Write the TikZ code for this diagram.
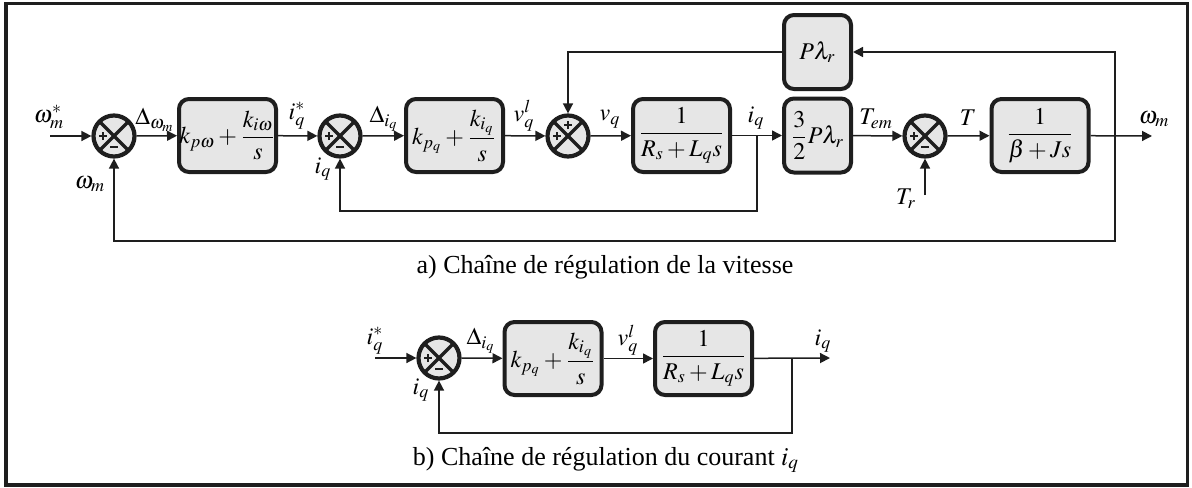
\documentclass[tikz,border=0pt]{standalone}
\usepackage{amsmath}
\usepackage{mathptmx}
\usepackage{fontspec}
\setmainfont{Liberation Serif}
\usetikzlibrary{arrows.meta}
\definecolor{lc}{RGB}{30,30,30}
\definecolor{boxfill}{RGB}{230,230,230}
\begin{document}
\begin{tikzpicture}[x=0.5pt,y=-0.5pt,
  every node/.style={font=\fontsize{12}{14}\selectfont, inner sep=0pt},
  captxt/.style={font=\fontsize{13}{15}\selectfont},
  blk/.style={draw=lc, line width=2pt, rounded corners=5pt, fill=boxfill,
    minimum width=48.5pt, minimum height=36.5pt, inner sep=0pt},
  nblk/.style={blk, minimum width=33.5pt, minimum height=37pt},
  arr/.style={-{Triangle[length=5pt,width=5pt]}, line width=0.75pt, draw=lc},
  sgn/.style={line width=1.1pt, draw=lc},
  sumbase/.style={circle, draw=lc, line width=2.1pt, fill=boxfill, minimum size=20.5pt, inner sep=0pt,
    path picture={
      \draw[line width=1.7pt,lc] ([shift={(45:12pt)}]path picture bounding box.center) -- ([shift={(225:12pt)}]path picture bounding box.center);
      \draw[line width=1.7pt,lc] ([shift={(135:12pt)}]path picture bounding box.center) -- ([shift={(315:12pt)}]path picture bounding box.center);
      \draw[sgn] ([shift={(-7.5pt,0pt)}]path picture bounding box.center) -- ++(4pt,0pt);
      \draw[sgn] ([shift={(-5.5pt,-2pt)}]path picture bounding box.center) -- ++(0pt,4pt);
    }},
]
\useasboundingbox (0,0) rectangle (1192,487);
\draw[line width=1.6pt, draw=lc] (6,3.5) rectangle (1187.5,485);

% ---------- part a ----------
\coordinate (in1) at (50,136);
\node[sumbase] (s1) at (114,136) {};
\node[blk] (b1) at (227.5,135.5) {$k_{p\omega}+\dfrac{k_{i\omega}}{s}$};
\node[sumbase] (s2) at (340,136) {};
\node[blk] (b2) at (454.5,135.5) {$k_{p_q}+\dfrac{k_{i_q}}{s}$};
\node[sumbase] (s3) at (568,136) {};
\node[blk] (b3) at (681.5,135.5) {$\dfrac{1}{R_s+L_q s}$};
\node[nblk] (b4) at (817.5,135.5) {$\dfrac{3}{2}P\lambda_r$};
\node[nblk] (pl) at (817.5,52) {$P\lambda_r$};
\node[sumbase] (s4) at (925,136) {};
\node[blk] (b5) at (1040,135.5) {$\dfrac{1}{\beta+Js}$};
\coordinate (j1) at (757,136);
\coordinate (j2) at (1115,136);
\coordinate (out1) at (1152,136);
\coordinate (c1) at (757,211);
\coordinate (c2) at (1115,241);
\coordinate (c3) at (1115,52);
\coordinate (c4) at (568,52);
\coordinate (tr) at (925,195);

% minus / plus signs
\foreach \s in {s1,s2,s4} \draw[sgn] ([shift={(-2pt,-5.5pt)}]\s.center) -- ++(4pt,0pt);
\draw[sgn] ([shift={(-2pt,5.5pt)}]s3.center) -- ++(4pt,0pt);
\draw[sgn] ([shift={(0pt,3.5pt)}]s3.center) -- ++(0pt,4pt);

\draw[arr] (in1) -- (s1);
\draw[arr] (s1) -- (b1);
\draw[arr] (b1) -- (s2);
\draw[arr] (s2) -- (b2);
\draw[arr] (b2) -- (s3);
\draw[arr] (s3) -- (b3);
\draw[arr] (b3) -- (b4);
\draw[arr] (b4) -- (s4);
\draw[arr] (s4) -- (b5);
\draw[arr] (b5) -- (out1);
\draw[arr] (j1) -- (c1) -| (s2.south);
\draw[arr] (j2) -- (c2) -| (s1.south);
\draw[arr] (j2) -- (c3) -- (pl.east);
\draw[arr] (pl.west) -- (c4) -- (s3.north);
\draw[arr] (tr) -- (s4.south);

\node (l1) at (49,117) {$\omega_m^*$};
\node (l2) at (155,120) {$\Delta_{\omega_m}$};
\node (l3) at (297,116) {$i_q^*$};
\node (l4) at (323,169) {$i_q$};
\node (l5) at (384,119) {$\Delta_{i_q}$};
\node (l6) at (524,116) {$v_q^l$};
\node (l7) at (610,119) {$v_q$};
\node (l8) at (756,118) {$i_q$};
\node (l9) at (876,119) {$T_{em}$};
\node (l10) at (968,118) {$T$};
\node (l11) at (1154,119) {$\omega_m$};
\node (l12) at (90,184) {$\omega_m$};
\node (l13) at (906,199) {$T_r$};
\node[captxt] (capa) at (605,267) {a) Chaîne de régulation de la vitesse};

% ---------- part b ----------
\coordinate (in2) at (375,358);
\node[sumbase] (t1) at (439,358) {};
\draw[sgn] ([shift={(-2pt,-5.5pt)}]t1.center) -- ++(4pt,0pt);
\node[blk] (d1) at (553,358.5) {$k_{p_q}+\dfrac{k_{i_q}}{s}$};
\node[blk] (d2) at (703.5,358.5) {$\dfrac{1}{R_s+L_q s}$};
\coordinate (j3) at (792,358);
\coordinate (out2) at (830,358);
\coordinate (c5) at (792,433);
\draw[arr] (in2) -- (t1);
\draw[arr] (t1) -- (d1);
\draw[arr] (d1) -- (d2);
\draw[arr] (d2) -- (out2);
\draw[arr] (j3) -- (c5) -| (t1.south);
\node (m1) at (375,341) {$i_q^*$};
\node (m2) at (481,341) {$\Delta_{i_q}$};
\node (m3) at (628,340) {$v_q^l$};
\node (m4) at (823,341) {$i_q$};
\node (m5) at (421,390) {$i_q$};
\node[captxt] (capb) at (606,460) {b) Chaîne de régulation du courant $i_q$};
\end{tikzpicture}
\end{document}
